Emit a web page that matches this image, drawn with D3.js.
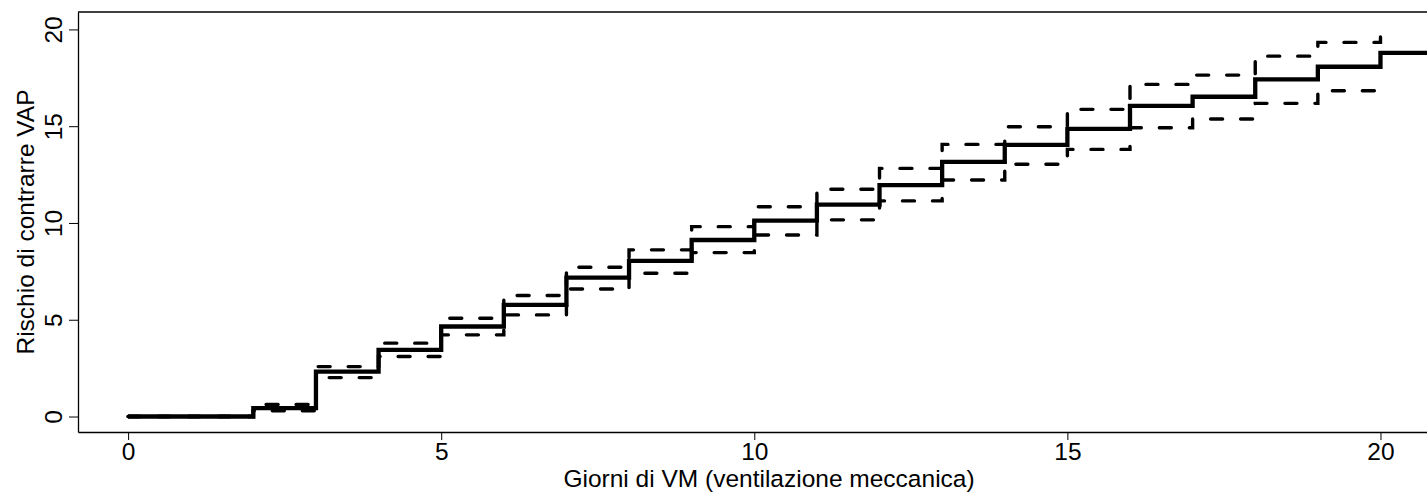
<!DOCTYPE html>
<html>
<head>
<meta charset="utf-8">
<script src="https://cdn.jsdelivr.net/npm/d3@7"></script>
<style>
  html, body { margin: 0; padding: 0; background: #fff; overflow: hidden; }
  svg { display: block; font-family: "Liberation Sans", Arial, sans-serif; }
</style>
</head>
<body>
<svg id="chart" width="1427" height="492"></svg>
<script>
// ---- data ----
const stepDays = [0, 2, 3, 4, 5, 6, 7, 8, 9, 10, 11, 12, 13, 14, 15, 16, 17, 18, 19, 20];
const risk     = [0, 0.43, 2.32, 3.44, 4.65, 5.77, 7.18, 8.04, 9.12, 10.12, 10.95, 11.96, 13.16, 14.03, 14.86, 16.05, 16.52, 17.42, 18.07, 18.79];
const upperCI  = [0, 0.62, 2.58, 3.79, 5.08, 6.25, 7.71, 8.61, 9.81, 10.84, 11.74, 12.82, 14.06, 14.97, 15.87, 17.16, 17.64, 18.62, 19.33, 19.85];
const lowerCI  = [0, 0.30, 2.01, 3.10, 4.22, 5.25, 6.59, 7.40, 8.47, 9.38, 10.16, 11.14, 12.22, 13.03, 13.80, 14.92, 15.37, 16.18, 16.83, 16.83];
const lastDay  = 20.8;   // main estimate continues past the last step
const xTicks   = [0, 5, 10, 15, 20];
const yTicks   = [0, 5, 10, 15, 20];
const xTitle   = "Giorni di VM (ventilazione meccanica)";
const yTitle   = "Rischio di contrarre VAP";

// ---- layout ----
const svg = d3.select("#chart");
const pLeft = 78, pRight = 1460, pTop = 12, pBottom = 432;
const fontSize = 24.5;

const x = d3.scaleLinear().domain([-0.8, 21.27]).range([pLeft, pRight]);
const y = d3.scaleLinear().domain([-0.8, 20.9]).range([pBottom, pTop]);

// plot region outline (top edge; right edge lies outside the window)
svg.append("line")
  .attr("x1", pLeft).attr("x2", pRight).attr("y1", pTop).attr("y2", pTop)
  .attr("stroke", "#000").attr("stroke-width", 1.3);

// axes
const gx = svg.append("g").attr("transform", `translate(0,${pBottom})`)
  .call(d3.axisBottom(x).tickValues(xTicks).tickFormat(d3.format("d")).tickSize(8).tickSizeOuter(0));
gx.select(".domain").attr("stroke", "#000").attr("stroke-width", 1.3);
gx.selectAll(".tick line").attr("stroke", "#000").attr("stroke-width", 1);
gx.selectAll(".tick text")
  .attr("y", 28).attr("dy", 0)
  .attr("font-size", fontSize).attr("fill", "#000")
  .style("font-family", "'Liberation Sans', Arial, sans-serif");

const gy = svg.append("g").attr("transform", `translate(${pLeft},0)`)
  .call(d3.axisLeft(y).tickValues(yTicks).tickFormat(d3.format("d")).tickSize(9).tickSizeOuter(0));
gy.select(".domain").attr("stroke", "#000").attr("stroke-width", 1.3);
gy.selectAll(".tick line").attr("stroke", "#000").attr("stroke-width", 1);
gy.selectAll(".tick text")
  .attr("x", 0).attr("y", -16).attr("dy", 0)
  .attr("transform", "rotate(-90)")
  .attr("text-anchor", "middle")
  .attr("font-size", fontSize).attr("fill", "#000")
  .style("font-family", "'Liberation Sans', Arial, sans-serif");

// axis titles
svg.append("text")
  .attr("x", (pLeft + pRight) / 2).attr("y", 487)
  .attr("text-anchor", "middle").attr("font-size", fontSize).attr("fill", "#000")
  .text(xTitle);

svg.append("text")
  .attr("transform", `translate(34,${(pTop + pBottom) / 2}) rotate(-90)`)
  .attr("text-anchor", "middle").attr("font-size", fontSize).attr("fill", "#000")
  .text(yTitle);

// step lines
const step = d3.line().x(d => x(d[0])).y(d => y(d[1])).curve(d3.curveStepAfter);

const mainPts = stepDays.map((d, i) => [d, risk[i]]);
mainPts.push([lastDay, risk[risk.length - 1]]);
const upPts = stepDays.map((d, i) => [d, upperCI[i]]);
const loPts = stepDays.map((d, i) => [d, lowerCI[i]]);

const plot = svg.append("g");
[upPts, loPts].forEach(pts => {
  plot.append("path")
    .attr("d", step(pts))
    .attr("fill", "none").attr("stroke", "#000")
    .attr("stroke-width", 3.4)
    .attr("stroke-dasharray", "12,18")
    .attr("stroke-linecap", "round");
});
plot.append("path")
  .attr("d", step(mainPts))
  .attr("fill", "none").attr("stroke", "#000")
  .attr("stroke-width", 4.3)
  .attr("stroke-linejoin", "miter");
</script>
</body>
</html>
